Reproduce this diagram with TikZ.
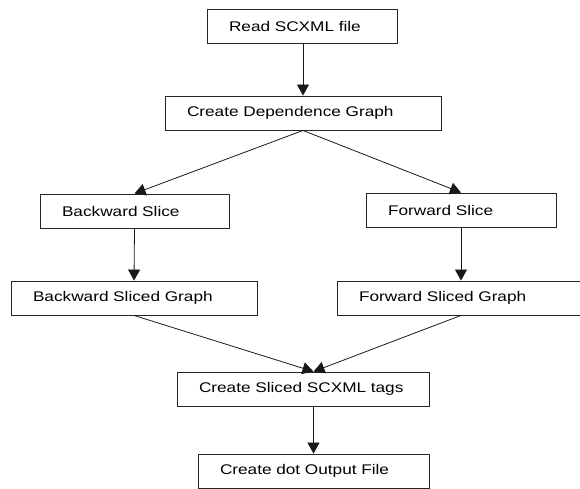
\documentclass[tikz,border=0pt]{standalone}
\usepackage{fontspec}
\setmainfont[FakeStretch=1.23]{Liberation Sans}
\usetikzlibrary{arrows.meta}
\begin{document}
\begin{tikzpicture}[x=1pt,y=-1pt,
  stepbox/.style={draw=black!85, line width=0.9pt, minimum height=34pt,
    inner xsep=22pt, inner ysep=0pt, align=left, font=\fontsize{14pt}{16pt}\selectfont},
  flow/.style={draw=black!90, line width=0.8pt,
    -{Triangle[length=11pt,width=12pt]}}]
\useasboundingbox (0,0) rectangle (580,489);
\clip (0,0) rectangle (580,489);

% processing steps
\node[stepbox, text width=146pt] (read) at (302,26) {Read SCXML file};
\node[stepbox, text width=232pt] (dep) at (303,113) {Create Dependence Graph};
\node[stepbox, text width=145pt] (bslice) at (134.5,211) {Backward Slice};
\node[stepbox, text width=146pt] (fslice) at (461,210) {Forward Slice};
\node[stepbox, text width=202pt] (bgraph) at (134,298) {Backward Sliced Graph};
\node[stepbox, text width=204pt] (fgraph) at (461,298) {Forward Sliced Graph};
\node[stepbox, text width=208pt] (tags) at (303,389) {Create Sliced SCXML tags};
\node[stepbox, text width=187pt] (dot) at (313.5,471) {Create dot Output File};

% where the two sliced graphs join
\coordinate (meet) at (dot.north |- tags.north);

% connectors
\draw[flow] (read.south) -- (dep.south |- read.south) -- (dep.north);
\draw[flow] (dep.south) -- (bslice.north);
\draw[flow] (dep.south) -- (fslice.north);
\draw[flow] (bslice.south) -- (bgraph.north);
\draw[flow] (fslice.south) -- (fgraph.north);
\draw[flow] (bgraph.south) -- (meet);
\draw[flow] (fgraph.south) -- (meet);
\draw[flow] (dot.north |- tags.south) -- (dot.north);
\end{tikzpicture}
\end{document}
